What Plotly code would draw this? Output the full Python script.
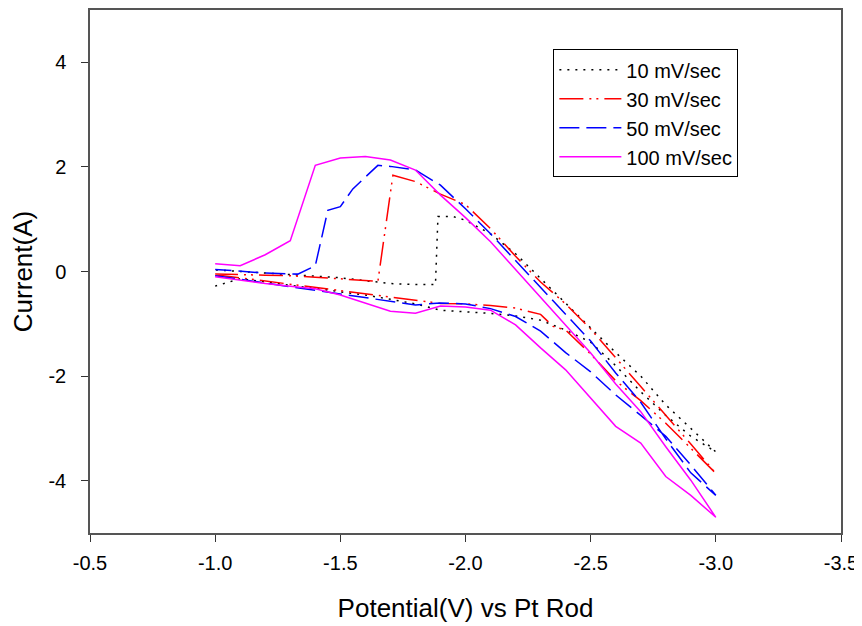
import plotly.graph_objects as go

# cyclic voltammograms, forward scan (-1.0 -> -3.0) then return scan (-3.0 -> -1.0)
labels = ["10 mV/sec", "30 mV/sec", "50 mV/sec", "100 mV/sec"]

pot_10 = [-1.0, -1.1, -1.2, -1.3, -1.4, -1.5, -1.6, -1.7, -1.8, -1.9, -2.0,
          -2.1, -2.2, -2.3, -2.4, -2.5, -2.6, -2.7, -2.8, -2.9, -3.0,
          -2.9, -2.8, -2.7, -2.6, -2.5, -2.4, -2.3, -2.2, -2.1, -2.0, -1.95,
          -1.89, -1.88, -1.8, -1.7, -1.6, -1.5, -1.4, -1.3, -1.2, -1.1, -1.0]
cur_10 = [-0.28, -0.14, -0.20, -0.26, -0.32, -0.38, -0.45, -0.53, -0.62, -0.74, -0.77,
          -0.80, -0.85, -0.93, -1.12, -1.35, -1.80, -2.30, -2.75, -3.15, -3.45,
          -3.00, -2.55, -2.00, -1.55, -1.08, -0.60, -0.12, 0.34, 0.72, 0.98, 1.05,
          1.05, -0.25, -0.25, -0.23, -0.18, -0.12, -0.09, -0.06, -0.03, 0.00, 0.03]

pot_30 = [-1.0, -1.1, -1.2, -1.3, -1.4, -1.5, -1.6, -1.7, -1.8, -1.9, -2.0,
          -2.1, -2.2, -2.3, -2.35, -2.4, -2.5, -2.6, -2.7, -2.8, -2.9, -3.0,
          -2.9, -2.8, -2.7, -2.6, -2.5, -2.4, -2.3, -2.2, -2.1, -2.0, -1.9,
          -1.8, -1.71, -1.65, -1.6, -1.5, -1.4, -1.3, -1.2, -1.1, -1.0]
cur_30 = [-0.06, -0.12, -0.18, -0.24, -0.30, -0.36, -0.42, -0.49, -0.55, -0.61, -0.62,
          -0.65, -0.70, -0.82, -1.05, -1.12, -1.58, -2.09, -2.47, -2.90, -3.38, -3.86,
          -3.30, -2.74, -2.20, -1.65, -1.10, -0.62, -0.20, 0.29, 0.82, 1.28, 1.48,
          1.72, 1.84, -0.19, -0.17, -0.14, -0.11, -0.08, -0.07, -0.06, -0.05]

pot_50 = [-1.0, -1.1, -1.2, -1.3, -1.4, -1.5, -1.6, -1.7, -1.8, -1.9, -2.0,
          -2.1, -2.2, -2.3, -2.4, -2.5, -2.6, -2.7, -2.8, -2.9, -3.0,
          -2.9, -2.8, -2.7, -2.6, -2.5, -2.4, -2.3, -2.2, -2.1, -2.0, -1.9,
          -1.8, -1.7, -1.65, -1.55, -1.5, -1.45, -1.4, -1.33, -1.2, -1.1, -1.0]
cur_50 = [-0.08, -0.15, -0.22, -0.29, -0.36, -0.43, -0.50, -0.57, -0.64, -0.60, -0.62,
          -0.71, -0.86, -1.14, -1.55, -1.92, -2.36, -2.75, -3.15, -3.70, -4.28,
          -3.85, -3.20, -2.50, -1.94, -1.33, -0.82, -0.30, 0.20, 0.72, 1.20, 1.65,
          1.94, 2.01, 2.03, 1.58, 1.24, 1.17, 0.11, -0.05, -0.03, 0.00, 0.04]

pot_100 = [-1.0, -1.1, -1.2, -1.3, -1.4, -1.5, -1.6, -1.7, -1.8, -1.9, -2.0,
           -2.1, -2.2, -2.3, -2.4, -2.5, -2.6, -2.7, -2.8, -2.9, -3.0,
           -2.9, -2.8, -2.7, -2.6, -2.5, -2.4, -2.3, -2.2, -2.1, -2.0, -1.9,
           -1.8, -1.7, -1.6, -1.5, -1.4, -1.3, -1.2, -1.1, -1.0]
cur_100 = [-0.10, -0.17, -0.23, -0.28, -0.33, -0.45, -0.60, -0.76, -0.80, -0.66, -0.68,
           -0.74, -1.02, -1.46, -1.88, -2.42, -2.96, -3.28, -3.92, -4.28, -4.70,
           -3.99, -3.35, -2.68, -2.15, -1.56, -1.03, -0.51, 0.03, 0.57, 1.03, 1.46,
           1.94, 2.13, 2.20, 2.17, 2.03, 0.59, 0.32, 0.11, 0.15]

x_ticks = [-0.5, -1.0, -1.5, -2.0, -2.5, -3.0, -3.5]
x_ticktext = ["-0.5", "-1.0", "-1.5", "-2.0", "-2.5", "-3.0", "-3.5"]
y_ticks = [-4, -2, 0, 2, 4]
y_ticktext = ["-4", "-2", "0", "2", "4"]

xs = [pot_10, pot_30, pot_50, pot_100]
ys = [cur_10, cur_30, cur_50, cur_100]
colors = ["black", "#ff0000", "#0000ff", "#ff00ff"]
dashes = ["2px,6px", "24px,6px,2px,5px,2px,6px", "20px,7px", "solid"]

fig = go.Figure()
for x, y, name, c, d in zip(xs, ys, labels, colors, dashes):
    fig.add_trace(go.Scatter(x=x, y=y, name=name, mode="lines",
                             line=dict(color=c, width=1.5, dash=d)))

# page body adds an 8px offset, so the figure is a bit smaller than the window
fig.update_layout(
    width=854, height=620,
    plot_bgcolor="white", paper_bgcolor="white",
    font=dict(family="Liberation Sans, Arial, sans-serif", color="black", size=20),
    margin=dict(l=82, r=21, t=2, b=95, autoexpand=False),
    showlegend=True,
    legend=dict(x=0.617, y=0.925, xanchor="left", yanchor="top",
                bordercolor="black", borderwidth=1, bgcolor="white",
                font=dict(size=20), itemwidth=62,
                tracegroupgap=0),
)

fig.update_xaxes(range=[-0.5, -3.5], tickvals=x_ticks, ticktext=x_ticktext,
                 ticks="outside", ticklen=7, tickcolor="#333", automargin=False,
                 ticklabelstandoff=4,
                 showline=True, linecolor="#555", linewidth=1.5, mirror=True,
                 showgrid=False, zeroline=False,
                 title=dict(text="Potential(V) vs Pt Rod", font=dict(size=26), standoff=26))
fig.update_yaxes(range=[-5, 5], tickvals=y_ticks, ticktext=y_ticktext,
                 ticks="outside", ticklen=7, tickcolor="#333", automargin=False,
                 ticklabelstandoff=11,
                 showline=True, linecolor="#555", linewidth=1.5, mirror=True,
                 showgrid=False, zeroline=False,
                 title=dict(text="Current(A)", font=dict(size=26), standoff=9))

fig.write_html("out.html")
